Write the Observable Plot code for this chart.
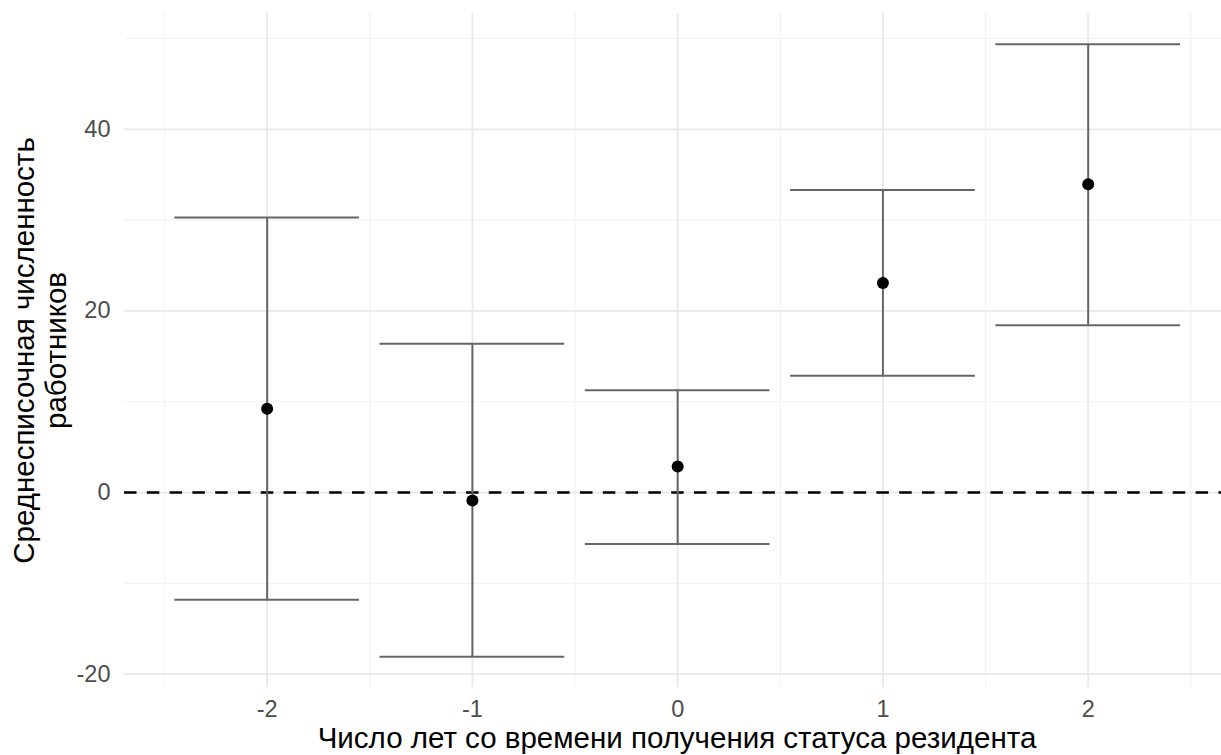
<!DOCTYPE html>
<html>
<head>
<meta charset="utf-8">
<script src="https://cdn.jsdelivr.net/npm/d3@7"></script>
<script src="https://cdn.jsdelivr.net/npm/@observablehq/plot@0.6"></script>
<style>
  html, body { margin: 0; padding: 0; background: #fff; }
  #chart { width: 1221px; height: 755px; overflow: hidden; }
</style>
</head>
<body>
<div id="chart"></div>
<script>
// Data
const years = [-2, -1, 0, 1, 2];
const estimate = [9.23, -0.88, 2.87, 23.08, 33.94];
const lower = [-11.80, -18.09, -5.66, 12.87, 18.42];
const upper = [30.30, 16.40, 11.28, 33.31, 49.38];

const xTicks = [-2, -1, 0, 1, 2];
const xMinor = [-2.5, -1.5, -0.5, 0.5, 1.5, 2.5];
const yTicks = [-20, 0, 20, 40];
const yMinor = [-10, 10, 30, 50];

const xTitle = "Число лет со времени получения статуса резидента";
const yTitle = "Среднесписочная численность\nработников";

const rows = years.map((x, i) => ({x, est: estimate[i], lo: lower[i], hi: upper[i]}));

const capHalf = 0.45;
const lo = d3.min(lower), hi = d3.max(upper);
const pad = (hi - lo) * 0.05;
const xPad = (xTicks[xTicks.length - 1] - xTicks[0] + 2 * capHalf) * 0.05;

const chart = Plot.plot({
  width: 1221,
  height: 755,
  marginLeft: 124,
  marginRight: 0,
  marginTop: 13,
  marginBottom: 68,
  style: {fontFamily: "'Liberation Sans', Arial, sans-serif", background: "white"},
  x: {domain: [xTicks[0] - capHalf - xPad, 2.6495]},
  y: {domain: [lo - pad, hi + pad]},
  marks: [
    Plot.ruleX(xMinor, {stroke: "#f2f2f2", strokeWidth: 1.2}),
    Plot.ruleY(yMinor, {stroke: "#f2f2f2", strokeWidth: 1.2}),
    Plot.ruleX(xTicks, {stroke: "#e9e9e9", strokeWidth: 1.8}),
    Plot.ruleY(yTicks, {stroke: "#e9e9e9", strokeWidth: 1.8}),
    Plot.ruleY([0], {stroke: "black", strokeWidth: 2.5, strokeDasharray: "12.5,10.3"}),
    Plot.ruleX(rows, {x: "x", y1: "lo", y2: "hi", stroke: "#666666", strokeWidth: 2}),
    Plot.ruleY(rows, {y: "lo", x1: d => d.x - capHalf, x2: d => d.x + capHalf, stroke: "#666666", strokeWidth: 2}),
    Plot.ruleY(rows, {y: "hi", x1: d => d.x - capHalf, x2: d => d.x + capHalf, stroke: "#666666", strokeWidth: 2}),
    Plot.dot(rows, {x: "x", y: "est", r: 6, fill: "black", stroke: "none"}),
    Plot.axisX(xTicks, {tickSize: 0, tickPadding: 13, fontSize: 23.5, color: "#4d4d4d", label: null, tickFormat: d => String(d)}),
    Plot.axisY(yTicks, {tickSize: 0, tickPadding: 14, fontSize: 23.5, color: "#4d4d4d", label: null, tickFormat: d => String(d)}),
    Plot.text([xTitle], {frameAnchor: "bottom", lineAnchor: "middle", textAnchor: "middle", dy: 51.4, dx: 4, fontSize: 29.5, fill: "black"}),
    Plot.text([yTitle], {frameAnchor: "left", lineAnchor: "middle", textAnchor: "middle", dx: -85.2, rotate: -90, fontSize: 29.5, lineHeight: 1.085, fill: "black"})
  ]
});
document.getElementById("chart").appendChild(chart);
</script>
</body>
</html>
